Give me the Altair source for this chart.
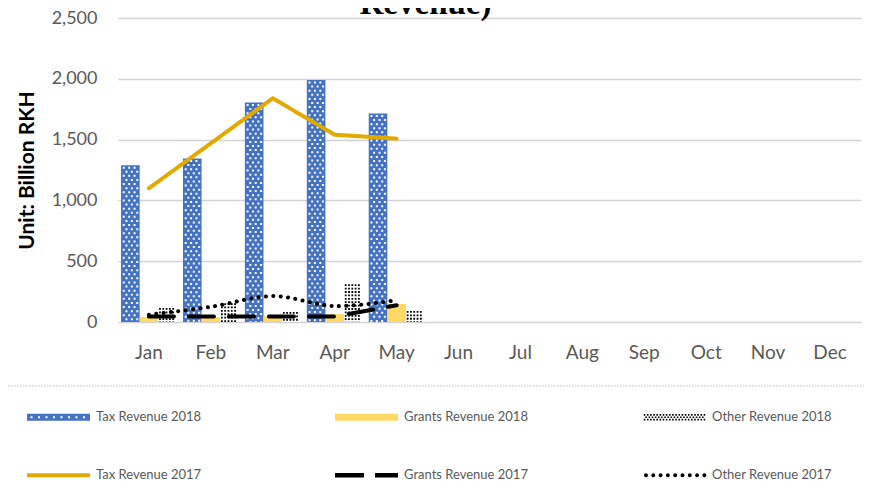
import altair as alt
import pandas as pd

# ---------------- data ----------------
months = ["Jan", "Feb", "Mar", "Apr", "May", "Jun", "Jul", "Aug", "Sep", "Oct", "Nov", "Dec"]

tax_2018 = [1290, 1345, 1805, 1990, 1715]
grants_2018 = [43, 40, 50, 65, 148]
other_2018 = [115, 155, 82, 310, 90]

tax_2017 = [1100, 1470, 1840, 1540, 1508]
grants_2017 = [45, 45, 45, 45, 138]
other_2017 = [60, 125, 213, 131, 180]

bar_series = ["Tax Revenue 2018", "Grants Revenue 2018", "Other Revenue 2018"]
line_series = ["Tax Revenue 2017", "Grants Revenue 2017", "Other Revenue 2017"]
y_ticks = [0, 500, 1000, 1500, 2000, 2500]

n = len(tax_2018)
wide = pd.DataFrame({
    "month": months[:n],
    bar_series[0]: tax_2018,
    bar_series[1]: grants_2018,
    bar_series[2]: other_2018,
    line_series[0]: tax_2017,
    line_series[1]: grants_2017,
    line_series[2]: other_2017,
})
bars_long = wide.melt(id_vars="month", value_vars=bar_series, var_name="series", value_name="value")
lines_long = wide.melt(id_vars="month", value_vars=line_series, var_name="series", value_name="value")

# ---------------- styles ----------------
BLUE = "#4472C4"
YELLOW = "#FFD966"
GOLD = "#E2AA00"
GREY_TXT = "#595959"
GRID = "#D3D3D3"
FONT = "Lato"

W, H = 743, 304
U = 31.5  # px per legend-symbol unit (symbol is 63 px wide)


def sq(cx, cy, s, ccw=False):
    h = s / 2
    if ccw:
        return f"M{cx-h:.3f},{cy-h:.3f}V{cy+h:.3f}H{cx+h:.3f}V{cy-h:.3f}Z"
    return f"M{cx-h:.3f},{cy-h:.3f}H{cx+h:.3f}V{cy+h:.3f}H{cx-h:.3f}Z"


def rect(x0, x1, h):
    return f"M{x0:.3f},{-h:.3f}H{x1:.3f}V{h:.3f}H{x0:.3f}Z"


def circle(cx, r):
    return f"M{cx-r:.3f},0A{r:.3f},{r:.3f} 0 1,0 {cx+r:.3f},0A{r:.3f},{r:.3f} 0 1,0 {cx-r:.3f},0Z"


# bar legend symbols
rect_path = rect(-1, 1, 0.11)
tax_path = rect_path + "".join(sq(-1 + (4.5 + 7.5 * k) / U, 0, 0.065, ccw=True) for k in range(8))
other_parts = []
for r, cy in enumerate([-0.075, 0.0, 0.075]):
    start = -0.95 + (0.05 if r % 2 else 0)
    k = 0
    while start + 0.1 * k <= 0.97:
        other_parts.append(sq(start + 0.1 * k, cy, 0.05))
        k += 1
other_path = "".join(other_parts)

# line legend symbols
solid_path = rect(-1, 1, 0.06)
dash_path = rect(-1, -1 + 29 / U, 0.07) + rect(-1 + 40 / U, 1, 0.07)
dot_path = "".join(circle(-1 + (3 + 7.3 * k) / U, 0.062) for k in range(9))

legend_common = dict(
    title=None, orient="none", legendX=-91, direction="horizontal", columns=3,
    gridAlign="all", columnPadding=115, symbolSize=3969, symbolStrokeWidth=0,
    labelFont=FONT, labelFontSize=13, labelColor=GREY_TXT, labelOffset=6, padding=0,
)

x_enc = alt.X(
    "month:N", sort=months,
    scale=alt.Scale(domain=months, paddingInner=0, paddingOuter=0),
    axis=alt.Axis(title=None, labelAngle=0, labelFont=FONT, labelFontSize=19, labelColor=GREY_TXT,
                  labelPadding=21, domain=False, ticks=False, tickSize=0, grid=False),
)
y_enc = alt.Y(
    "value:Q",
    scale=alt.Scale(domain=[0, 2500], nice=False),
    axis=alt.Axis(values=y_ticks, format=",.0f", title="Unit: Billion RKH",
                  labelFont=FONT, labelFontSize=18, labelColor=GREY_TXT, labelPadding=21,
                  domain=False, ticks=False, tickSize=0, grid=True, gridColor=GRID, gridWidth=1.5,
                  titleFont=FONT, titleFontSize=21, titleFontWeight="bold", titleColor="#000000",
                  titleX=-91, titleY=H / 2, titleAngle=270, titleAlign="center", titleBaseline="middle"),
)
xoff_enc = alt.XOffset("series:N", sort=bar_series,
                       scale=alt.Scale(domain=bar_series, paddingInner=0, paddingOuter=0.1645))

# separator (dotted grey line above legend)
sep = alt.Chart(pd.DataFrame({"a": [0]})).mark_rule(
    color=GRID, strokeDash=[1.5, 1.5], strokeWidth=1.5
).encode(x=alt.value(-110), x2=alt.value(W + 3), y=alt.value(368))

bars = alt.Chart(bars_long).mark_bar().encode(
    x=x_enc, xOffset=xoff_enc, y=y_enc,
    fill=alt.Fill("series:N", sort=bar_series,
                  scale=alt.Scale(domain=bar_series, range=[BLUE, YELLOW, "#FFFFFF"]),
                  legend=None),
)

# dot patterns drawn as dashed rules
tax_cols = [-25.2, -22.5, -19.8, -17.1, -14.4, -11.7]
other_cols = [11.0, 14.3, 17.6, 20.9, 24.2]
pattern_layers = []
for i, off in enumerate(tax_cols):
    pattern_layers.append(
        alt.Chart(bars_long).transform_filter(alt.datum.series == bar_series[0]).mark_rule(
            color="#FFFFFF", strokeWidth=2, strokeDash=[2, 6.2],
            strokeDashOffset=-1.5 if i % 2 == 0 else -5.6, xOffset=off
        ).encode(x=x_enc, y=y_enc, y2=alt.datum(0))
    )
for i, off in enumerate(other_cols):
    pattern_layers.append(
        alt.Chart(bars_long).transform_filter(alt.datum.series == bar_series[2]).mark_rule(
            color="#000000", strokeWidth=1.8, strokeDash=[1.8, 1.6], xOffset=off
        ).encode(x=x_enc, y=y_enc, y2=alt.datum(0))
    )

stroke_enc = alt.Stroke("series:N", sort=line_series,
                        scale=alt.Scale(domain=line_series, range=[GOLD, "#000000", "#000000"]),
                        legend=None)
dash_enc = alt.StrokeDash("series:N", sort=line_series,
                          scale=alt.Scale(domain=line_series, range=[[1, 0], [25, 15], [0.1, 7.3]]),
                          legend=None)

lines_straight = alt.Chart(lines_long).transform_filter(
    alt.datum.series != line_series[2]
).mark_line(strokeWidth=4, strokeCap="round", strokeJoin="round").encode(
    x=x_enc, y=y_enc, stroke=stroke_enc, strokeDash=dash_enc
)
lines_smooth = alt.Chart(lines_long).transform_filter(
    alt.datum.series == line_series[2]
).mark_line(strokeWidth=4, strokeCap="round", interpolate="catmull-rom").encode(
    x=x_enc, y=y_enc, stroke=stroke_enc, strokeDash=dash_enc
)

# legends (symbols only, no marks drawn: data filtered to nothing)
legend_bars = alt.Chart(bars_long).transform_filter("false").mark_point(
    filled=True, opacity=1
).encode(
    fill=alt.Fill("series:N", sort=bar_series,
                  scale=alt.Scale(domain=bar_series, range=[BLUE, YELLOW, "#000000"]),
                  legend=alt.Legend(legendY=367.5, **legend_common)),
    shape=alt.Shape("series:N", sort=bar_series,
                    scale=alt.Scale(domain=bar_series, range=[tax_path, rect_path, other_path]),
                    legend=alt.Legend(legendY=367.5, **legend_common)),
)
legend_lines = alt.Chart(lines_long).transform_filter("false").mark_point(
    filled=True, opacity=1
).encode(
    fill=alt.Fill("series:N", sort=line_series,
                  scale=alt.Scale(domain=line_series, range=[GOLD, "#000000", "#000000"]),
                  legend=alt.Legend(legendY=425.5, **legend_common)),
    shape=alt.Shape("series:N", sort=line_series,
                    scale=alt.Scale(domain=line_series, range=[solid_path, dash_path, dot_path]),
                    legend=alt.Legend(legendY=425.5, **legend_common)),
)

title = alt.Chart(pd.DataFrame({"t": ["Revenue)"]})).mark_text(
    font="Liberation Serif", fontSize=33, fontWeight="bold", color="#000000",
    align="center", baseline="alphabetic"
).encode(text="t:N", x=alt.value(307.5), y=alt.value(-4.5))

chart = alt.layer(
    sep, bars, *pattern_layers, lines_straight, lines_smooth, legend_bars, legend_lines, title
).resolve_scale(
    fill="independent", shape="independent"
).properties(
    width=W, height=H,
    autosize=alt.AutoSizeParams(type="none"),
    padding={"left": 110, "top": 10, "right": 3, "bottom": 163},
    background="#FFFFFF",
).configure_view(stroke=None)

chart.save("out.html", embed_options={"renderer": "svg", "actions": False})
